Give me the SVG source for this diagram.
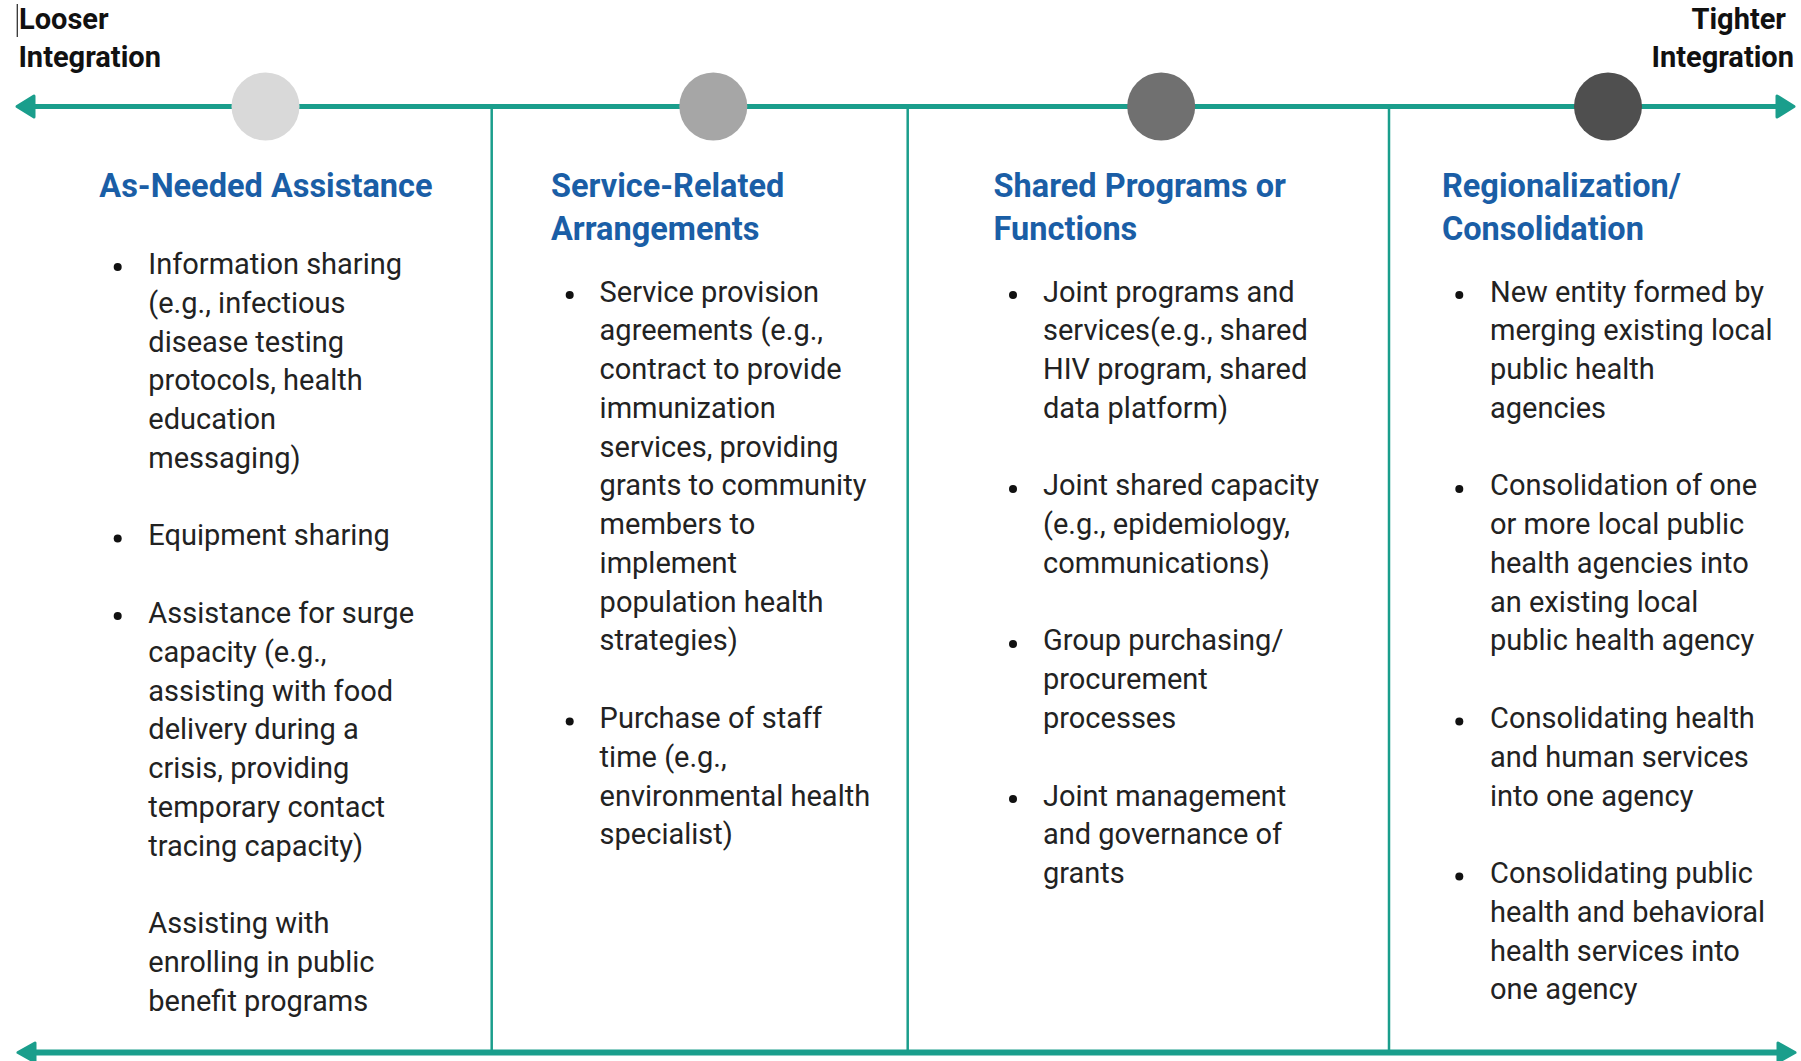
<svg xmlns="http://www.w3.org/2000/svg" width="1801" height="1061" viewBox="0 0 1801 1061">
<defs>
<style>
text{font-family:Roboto,"Liberation Sans",Arial,sans-serif;}
.lbl{font-size:29px;font-weight:bold;fill:#111;}
.hd{font-size:32.5px;font-weight:bold;fill:#1a5ea6;}
.bd{font-size:29px;fill:#222;}
.bul{fill:#111;}
.axis{stroke:#1a9e8c;fill:none;}
.head{fill:#1a9e8c;stroke:#1a9e8c;stroke-width:3;stroke-linejoin:round;}
.div{stroke:#1a9e8c;stroke-width:2.5;}
</style>
</defs>
<rect width="1801" height="1061" fill="#fff"/>

<g id="connectors">
<line class="axis" x1="28" y1="106.5" x2="1783" y2="106.5" stroke-width="5"/>
<path class="head" d="M17,106.5 L34,96 L34,117 Z"/>
<path class="head" d="M1794,106.5 L1777,96 L1777,117 Z"/>
<line class="div" x1="491.7" y1="106.5" x2="491.7" y2="1052.5"/>
<line class="div" x1="907.7" y1="106.5" x2="907.7" y2="1052.5"/>
<line class="div" x1="1389" y1="106.5" x2="1389" y2="1052.5"/>
<line class="axis" x1="28" y1="1052.5" x2="1783" y2="1052.5" stroke-width="6"/>
<path class="head" d="M18,1052.5 L35,1043 L35,1062 Z"/>
<path class="head" d="M1795,1052.5 L1778,1043 L1778,1062 Z"/>
</g>

<g id="labels">
<line x1="17.3" y1="4" x2="17.3" y2="37" stroke="#333" stroke-width="1.3"/>
<text class="lbl" x="19" y="29.3">Looser</text>
<text class="lbl" x="18.4" y="66.7">Integration</text>
<text class="lbl" x="1786" y="29.3" text-anchor="end">Tighter</text>
<text class="lbl" x="1794" y="66.7" text-anchor="end">Integration</text>
</g>

<g id="markers">
<circle cx="265.5" cy="106.5" r="34" fill="#d9d9d9"/>
<circle cx="713.3" cy="106.5" r="34" fill="#a6a6a6"/>
<circle cx="1161.2" cy="106.5" r="34" fill="#707070"/>
<circle cx="1608" cy="106.5" r="34" fill="#4f4f4f"/>
</g>

<g id="col-as-needed">
<text class="hd" x="99.3" y="196.5">As-Needed Assistance</text>
<circle class="bul" cx="117.7" cy="267" r="4"/>
<circle class="bul" cx="117.7" cy="538.4" r="4"/>
<circle class="bul" cx="117.7" cy="615.9" r="4"/>
<text class="bd">
<tspan x="148.3" y="274">Information sharing</tspan>
<tspan x="148.3" y="312.8">(e.g., infectious</tspan>
<tspan x="148.3" y="351.5">disease testing</tspan>
<tspan x="148.3" y="390.3">protocols, health</tspan>
<tspan x="148.3" y="429.1">education</tspan>
<tspan x="148.3" y="467.9">messaging)</tspan>
<tspan x="148.3" y="545.4">Equipment sharing</tspan>
<tspan x="148.3" y="622.9">Assistance for surge</tspan>
<tspan x="148.3" y="661.7">capacity (e.g.,</tspan>
<tspan x="148.3" y="700.5">assisting with food</tspan>
<tspan x="148.3" y="739.3">delivery during a</tspan>
<tspan x="148.3" y="778">crisis, providing</tspan>
<tspan x="148.3" y="816.8">temporary contact</tspan>
<tspan x="148.3" y="855.6">tracing capacity)</tspan>
<tspan x="148.3" y="933.1">Assisting with</tspan>
<tspan x="148.3" y="971.9">enrolling in public</tspan>
<tspan x="148.3" y="1010.6">benefit programs</tspan>
</text>
</g>

<g id="col-service">
<text class="hd"><tspan x="551" y="196.5">Service-Related</tspan><tspan x="551" y="239.8">Arrangements</tspan></text>
<circle class="bul" cx="569.7" cy="295" r="4"/>
<circle class="bul" cx="569.7" cy="721.5" r="4"/>
<text class="bd">
<tspan x="599.6" y="301.5">Service provision</tspan>
<tspan x="599.6" y="340.3">agreements (e.g.,</tspan>
<tspan x="599.6" y="379">contract to provide</tspan>
<tspan x="599.6" y="417.8">immunization</tspan>
<tspan x="599.6" y="456.6">services, providing</tspan>
<tspan x="599.6" y="495.4">grants to community</tspan>
<tspan x="599.6" y="534.1">members to</tspan>
<tspan x="599.6" y="572.9">implement</tspan>
<tspan x="599.6" y="611.7">population health</tspan>
<tspan x="599.6" y="650.4">strategies)</tspan>
<tspan x="599.6" y="728">Purchase of staff</tspan>
<tspan x="599.6" y="766.7">time (e.g.,</tspan>
<tspan x="599.6" y="805.5">environmental health</tspan>
<tspan x="599.6" y="844.3">specialist)</tspan>
</text>
</g>

<g id="col-shared">
<text class="hd"><tspan x="993.6" y="196.5">Shared Programs or</tspan><tspan x="993.6" y="239.8">Functions</tspan></text>
<circle class="bul" cx="1013" cy="295" r="4"/>
<circle class="bul" cx="1013" cy="488.9" r="4"/>
<circle class="bul" cx="1013" cy="643.9" r="4"/>
<circle class="bul" cx="1013" cy="799" r="4"/>
<text class="bd">
<tspan x="1043" y="301.5">Joint programs and</tspan>
<tspan x="1043" y="340.3">services(e.g., shared</tspan>
<tspan x="1043" y="379">HIV program, shared</tspan>
<tspan x="1043" y="417.8">data platform)</tspan>
<tspan x="1043" y="495.4">Joint shared capacity</tspan>
<tspan x="1043" y="534.1">(e.g., epidemiology,</tspan>
<tspan x="1043" y="572.9">communications)</tspan>
<tspan x="1043" y="650.4">Group purchasing/</tspan>
<tspan x="1043" y="689.2">procurement</tspan>
<tspan x="1043" y="728">processes</tspan>
<tspan x="1043" y="805.5">Joint management</tspan>
<tspan x="1043" y="844.3">and governance of</tspan>
<tspan x="1043" y="883.1">grants</tspan>
</text>
</g>

<g id="col-regional">
<text class="hd"><tspan x="1442" y="196.5">Regionalization/</tspan><tspan x="1442" y="239.8">Consolidation</tspan></text>
<circle class="bul" cx="1459.3" cy="295" r="4"/>
<circle class="bul" cx="1459.3" cy="488.9" r="4"/>
<circle class="bul" cx="1459.3" cy="721.5" r="4"/>
<circle class="bul" cx="1459.3" cy="876.6" r="4"/>
<text class="bd">
<tspan x="1490" y="301.5">New entity formed by</tspan>
<tspan x="1490" y="340.3">merging existing local</tspan>
<tspan x="1490" y="379">public health</tspan>
<tspan x="1490" y="417.8">agencies</tspan>
<tspan x="1490" y="495.4">Consolidation of one</tspan>
<tspan x="1490" y="534.1">or more local public</tspan>
<tspan x="1490" y="572.9">health agencies into</tspan>
<tspan x="1490" y="611.7">an existing local</tspan>
<tspan x="1490" y="650.4">public health agency</tspan>
<tspan x="1490" y="728">Consolidating health</tspan>
<tspan x="1490" y="766.7">and human services</tspan>
<tspan x="1490" y="805.5">into one agency</tspan>
<tspan x="1490" y="883.1">Consolidating public</tspan>
<tspan x="1490" y="921.8">health and behavioral</tspan>
<tspan x="1490" y="960.6">health services into</tspan>
<tspan x="1490" y="999.4">one agency</tspan>
</text>
</g>
</svg>
